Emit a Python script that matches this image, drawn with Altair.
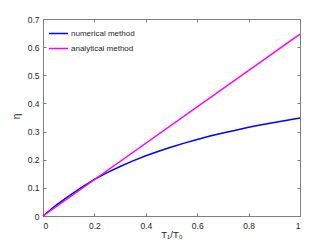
import altair as alt
import pandas as pd

# data
x_num = [0, 0.05, 0.1, 0.15, 0.2, 0.25, 0.3, 0.35, 0.4, 0.45, 0.5,
         0.55, 0.6, 0.65, 0.7, 0.75, 0.8, 0.85, 0.9, 0.95, 1.0]
eta_num = [0, 0.038, 0.071, 0.102, 0.130, 0.154, 0.176, 0.196, 0.214, 0.230, 0.245,
           0.259, 0.272, 0.284, 0.295, 0.305, 0.315, 0.324, 0.332, 0.340, 0.348]
x_ana = [0, 1.0]
eta_ana = [0, 0.646]
series = ["numerical method", "analytical method"]
colors = ["#0000ff", "#ff00ff"]
x_ticks = [0, 0.2, 0.4, 0.6, 0.8, 1]
y_ticks = [0, 0.1, 0.2, 0.3, 0.4, 0.5, 0.6, 0.7]

df = pd.concat([
    pd.DataFrame({"x": x_num, "eta": eta_num, "method": series[0]}),
    pd.DataFrame({"x": x_ana, "eta": eta_ana, "method": series[1]}),
])

W, H = 257, 197
FONT = "Liberation Sans"
AX = "#262626"
DOM = "#7f7f7f"

xs = alt.Scale(domain=[0, 1], nice=False)
ys = alt.Scale(domain=[0, 0.7], nice=False)

main = alt.Chart(df).mark_line(strokeWidth=1.5).encode(
    x=alt.X("x:Q", scale=xs, title="T₁/T₀",
            axis=alt.Axis(values=x_ticks, format="~g", tickSize=0, labelPadding=5,
                          domainColor=DOM, labelColor=AX, labelFontSize=8.5,
                          labelFont=FONT, titleFont=FONT, titleFontSize=9.5,
                          titleFontWeight="normal", titleColor=AX,
                          titleY=21, titleBaseline="alphabetic", titleAlign="center",
                          grid=False)),
    y=alt.Y("eta:Q", scale=ys, title="η",
            axis=alt.Axis(values=y_ticks, format="~g", tickSize=0, labelPadding=4,
                          domainColor=DOM, labelColor=AX, labelFontSize=8.5,
                          labelFont=FONT, titleFont=FONT, titleFontSize=10,
                          titleFontWeight="normal", titleColor=AX,
                          titleX=-27, titleY=97, titleAlign="center",
                          titleBaseline="middle", grid=False)),
    color=alt.Color("method:N", scale=alt.Scale(domain=series, range=colors),
                    legend=alt.Legend(title=None, orient="none", legendX=5, legendY=4,
                                      symbolType="stroke", symbolSize=361,
                                      symbolStrokeWidth=1.5, labelFontSize=8,
                                      labelFont=FONT, labelColor=AX, labelOffset=2,
                                      rowPadding=-12, padding=0)),
    order=alt.value(0),
)

# inward ticks at bottom / left edges
ticks_a = alt.Chart(df).mark_line(strokeOpacity=0).encode(
    x=alt.X("x:Q", scale=xs, title=None,
            axis=alt.Axis(orient="top", offset=-H, values=x_ticks, labels=False,
                          domain=False, tickSize=3, tickColor=DOM, grid=False)),
    y=alt.Y("eta:Q", scale=ys, title=None,
            axis=alt.Axis(orient="right", offset=-W, values=y_ticks, labels=False,
                          domain=False, tickSize=3, tickColor=DOM, grid=False)),
    detail="method:N",
)

# top / right border with inward ticks
ticks_b = alt.Chart(df).mark_line(strokeOpacity=0).encode(
    x=alt.X("x:Q", scale=xs, title=None,
            axis=alt.Axis(orient="bottom", offset=-H, values=x_ticks, labels=False,
                          domainColor=DOM, tickSize=3, tickColor=DOM, grid=False)),
    y=alt.Y("eta:Q", scale=ys, title=None,
            axis=alt.Axis(orient="left", offset=-W, values=y_ticks, labels=False,
                          domainColor=DOM, tickSize=3, tickColor=DOM, grid=False)),
    detail="method:N",
)

chart = alt.layer(main, ticks_a, ticks_b).resolve_axis(
    x="independent", y="independent"
).properties(
    width=W, height=H,
    autosize=alt.AutoSizeParams(type="none"),
    padding={"left": 35, "top": 11, "right": 24, "bottom": 25},
    background="white",
).configure_view(stroke=None)

chart.save("out.html", embed_options={"renderer": "svg", "actions": False})
